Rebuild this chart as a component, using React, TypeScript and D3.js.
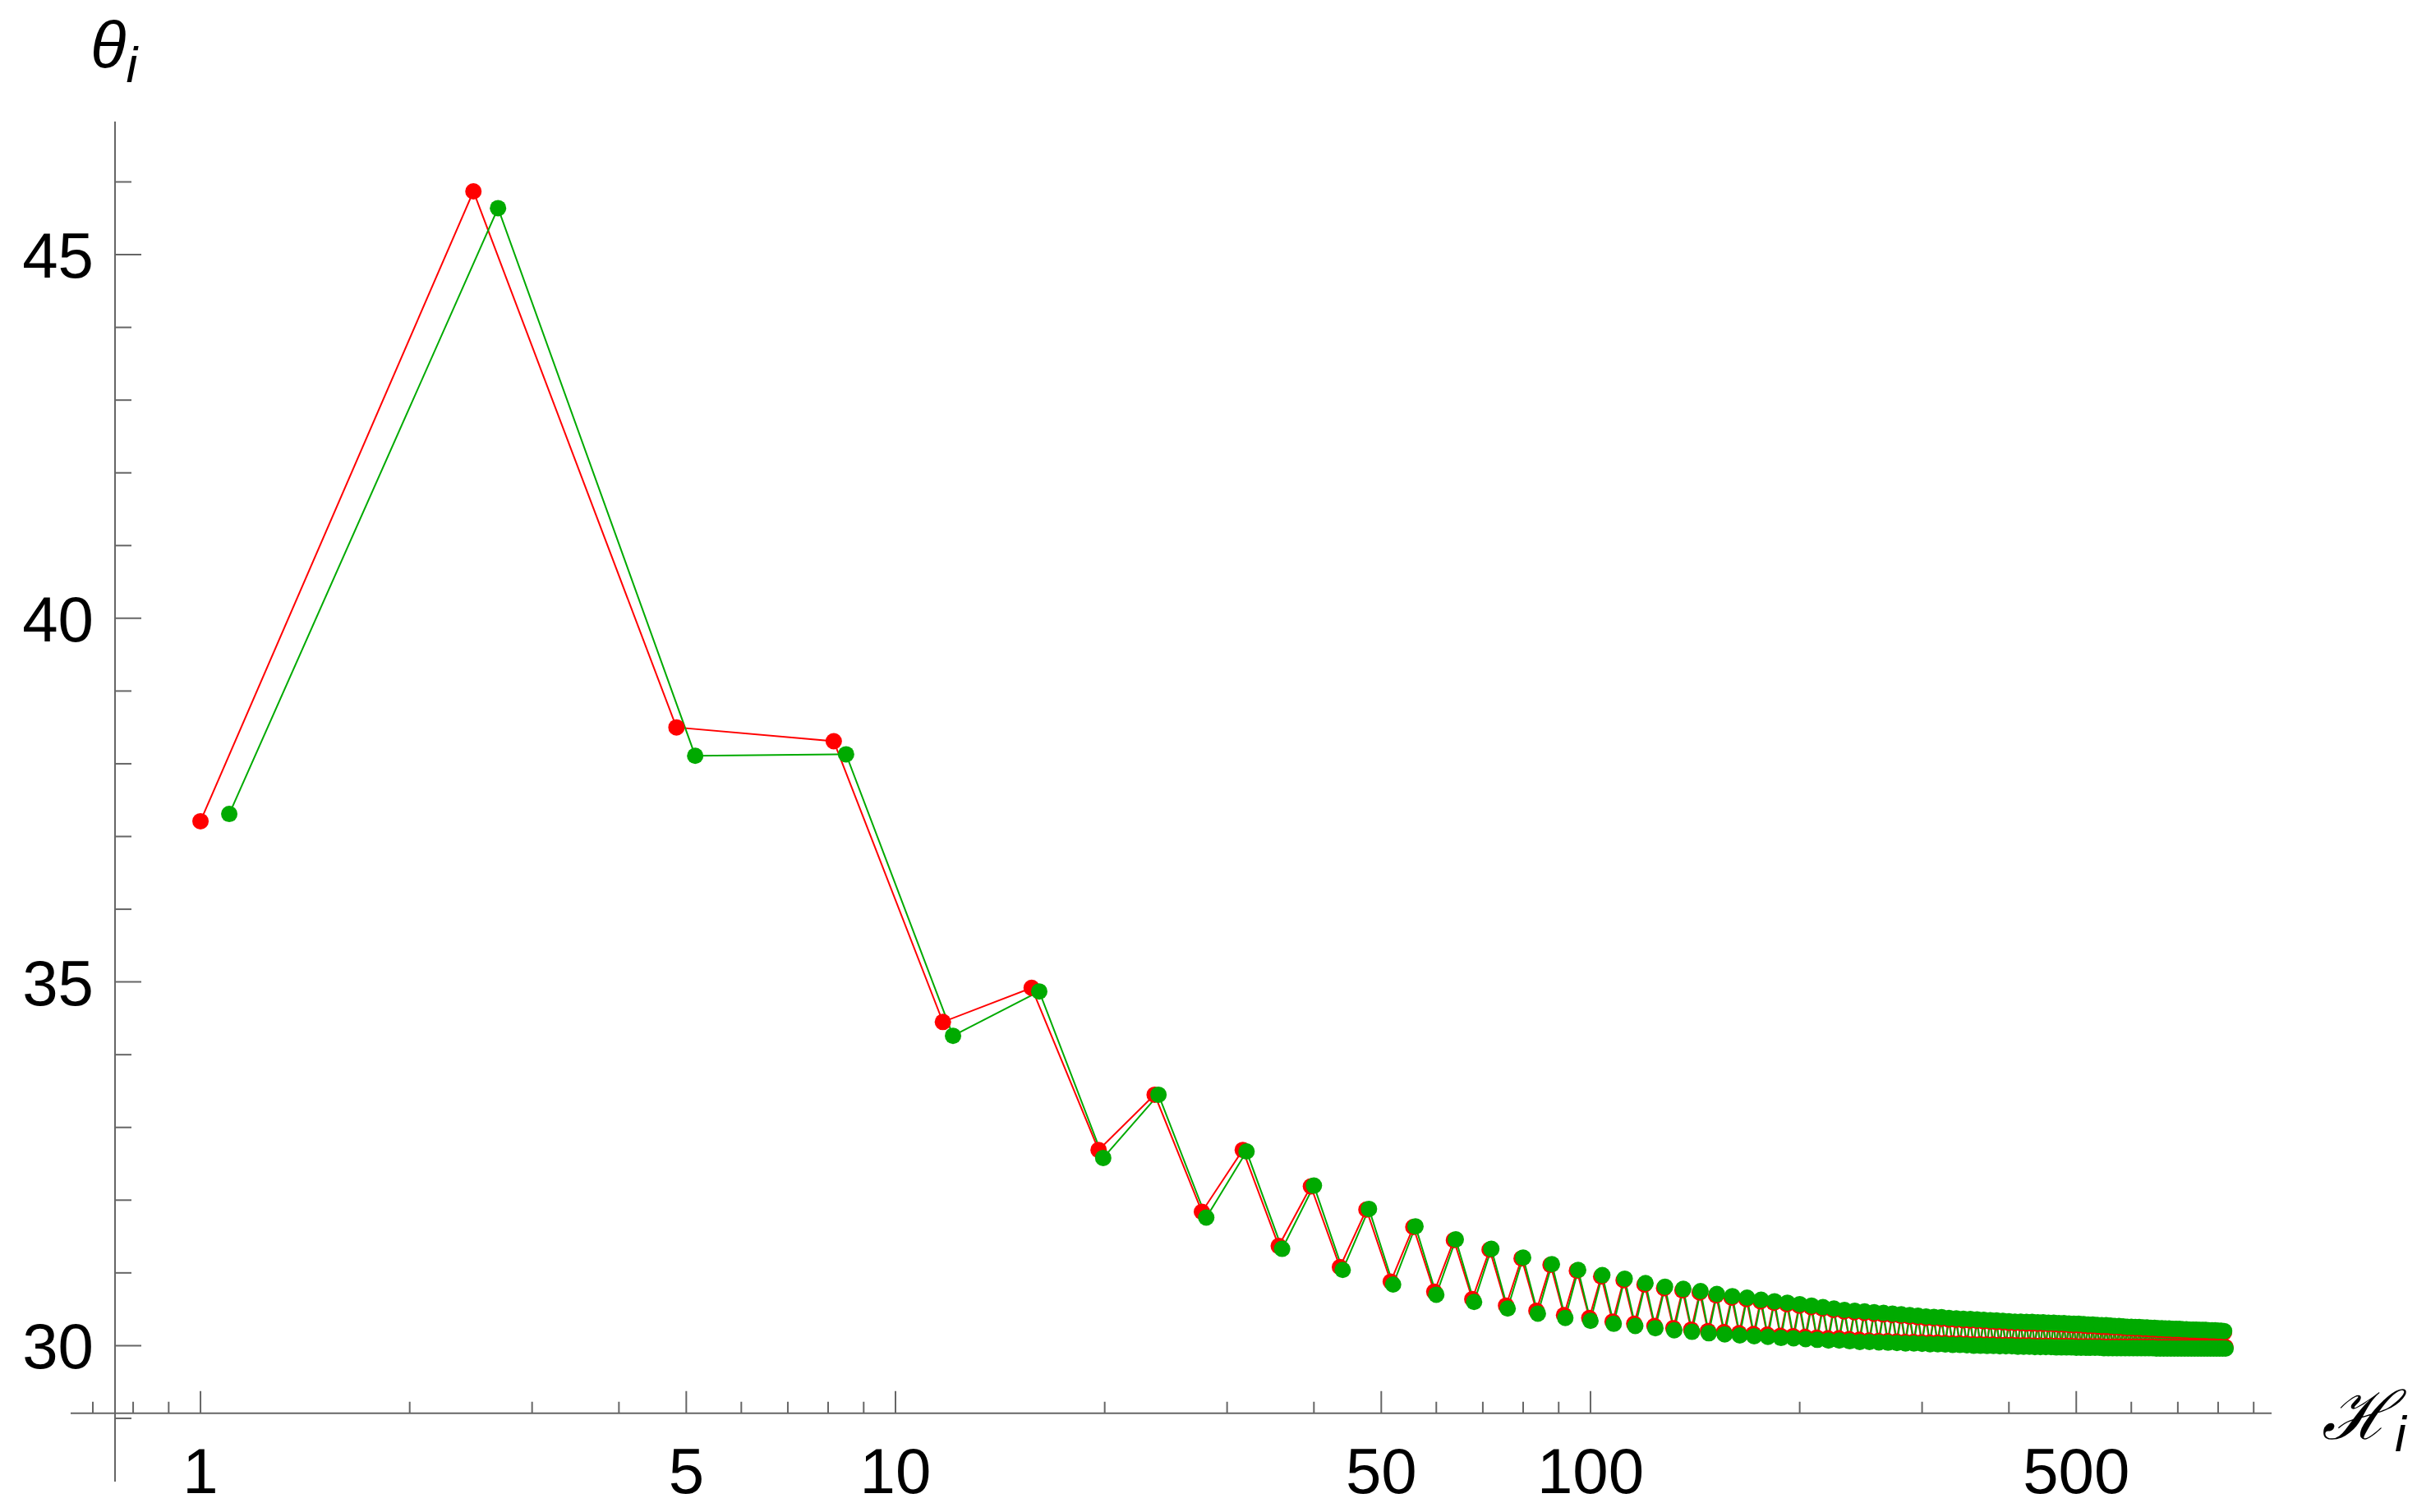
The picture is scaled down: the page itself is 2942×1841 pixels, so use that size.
import React from 'react'
import * as d3 from 'd3'

// green series (drawn on top)
const greenX = [
  1.1, 2.68, 5.15, 8.49, 12.1, 16.1, 19.9, 23.9, 28,
  32, 36, 40, 44, 48, 52, 56, 60, 64, 68, 72, 76, 80, 84, 88, 92, 96, 100,
  104, 108, 112, 116, 120, 124, 128, 132, 136, 140, 144, 148, 152, 156, 160,
  164, 168, 172, 176, 180, 184, 188, 192, 196, 200, 204, 208, 212, 216, 220,
  224, 228, 232, 236, 240, 244, 248, 252, 256, 260, 264, 268, 272, 276, 280,
  284, 288, 292, 296, 300, 304, 308, 312, 316, 320, 324, 328, 332, 336, 340,
  344, 348, 352, 356, 360, 364, 368, 372, 376, 380, 384, 388, 392, 396, 400,
  404, 408, 412, 416, 420, 424, 428, 432, 436, 440, 444, 448, 452, 456, 460,
  464, 468, 472, 476, 480, 484, 488, 492, 496, 500, 504, 508, 512, 516, 520,
  524, 528, 532, 536, 540, 544, 548, 552, 556, 560, 564, 568, 572, 576, 580,
  584, 588, 592, 596, 600, 604, 608, 612, 616, 620, 624, 628, 632, 636, 640,
  644, 648, 652, 656, 660, 664, 668, 672, 676, 680, 684, 688, 692, 696, 700,
  704, 708, 712, 716, 720, 724, 728, 732, 736, 740, 744, 748, 752, 756, 760,
  764, 768, 772, 776, 780, 784, 788, 792, 796, 800, 804, 808, 812, 816, 820,
]
const greenY = [
  37.31, 45.64, 38.11, 38.13, 34.26, 34.87, 32.58, 33.45, 31.76,
  32.67, 31.33, 32.2, 31.04, 31.88, 30.84, 31.64, 30.7, 31.46, 30.6, 31.33, 30.51, 31.21, 30.44, 31.12, 30.38, 31.04, 30.34,
  30.97, 30.3, 30.92, 30.27, 30.86, 30.24, 30.81, 30.21, 30.78, 30.19, 30.75, 30.17, 30.71, 30.155, 30.68,
  30.14, 30.66, 30.13, 30.63, 30.12, 30.61, 30.105, 30.59, 30.1, 30.57, 30.09, 30.55, 30.08, 30.53, 30.07,
  30.51, 30.07, 30.49, 30.06, 30.48, 30.05, 30.47, 30.05, 30.46, 30.045, 30.45, 30.04, 30.44, 30.035, 30.43,
  30.03, 30.42, 30.03, 30.41, 30.025, 30.4, 30.02, 30.395, 30.02, 30.39, 30.015, 30.38, 30.01, 30.375, 30.01,
  30.37, 30.005, 30.365, 30.0, 30.36, 30.0, 30.355, 29.995, 30.35, 29.995, 30.345, 29.99, 30.34, 29.99, 30.335,
  29.99, 30.33, 29.985, 30.33, 29.985, 30.325, 29.985, 30.325, 29.98, 30.32, 29.98, 30.32, 29.98, 30.315, 29.98,
  30.315, 29.975, 30.31, 29.975, 30.31, 29.975, 30.305, 29.975, 30.3, 29.97, 30.3, 29.97, 30.295, 29.97, 30.29,
  29.97, 30.29, 29.97, 30.285, 29.97, 30.28, 29.965, 30.28, 29.965, 30.275, 29.965, 30.27, 29.965, 30.27, 29.965,
  30.265, 29.965, 30.26, 29.965, 30.26, 29.965, 30.255, 29.965, 30.255, 29.965, 30.25, 29.965, 30.25, 29.965, 30.245,
  29.965, 30.245, 29.96, 30.24, 29.96, 30.24, 29.96, 30.235, 29.96, 30.235, 29.96, 30.23, 29.96, 30.23, 29.96,
  30.23, 29.96, 30.225, 29.96, 30.225, 29.96, 30.22, 29.96, 30.22, 29.96, 30.22, 29.96, 30.215, 29.96, 30.215,
  29.96, 30.215, 29.96, 30.21, 29.96, 30.21, 29.96, 30.21, 29.96, 30.205, 29.96, 30.205, 29.96, 30.2, 29.96,
]

// red series
const redX = [
  1, 2.47, 4.84, 8.15, 11.7, 15.7, 19.6, 23.6, 27.6,
  31.6, 35.6, 39.6, 43.6, 47.6, 51.6, 55.6, 59.6, 63.6, 67.6, 71.6, 75.6, 79.6, 83.6, 87.6, 91.6, 95.6, 99.6,
  103.6, 107.6, 111.6, 115.6, 119.6, 123.6, 127.6, 131.6, 135.6, 139.6, 143.6, 147.6, 151.6, 155.6, 159.6,
  163.6, 167.6, 171.6, 175.6, 179.6, 183.6, 187.6, 191.6, 195.6, 199.6, 203.6, 207.6, 211.6, 215.6, 219.6,
  223.6, 227.6, 231.6, 235.6, 239.6, 243.6, 247.6, 251.6, 255.6, 259.6, 263.6, 267.6, 271.6, 275.6, 279.6,
  283.6, 287.6, 291.6, 295.6, 299.6, 303.6, 307.6, 311.6, 315.6, 319.6, 323.6, 327.6, 331.6, 335.6, 339.6,
  343.6, 347.6, 351.6, 355.6, 359.6, 363.6, 367.6, 371.6, 375.6, 379.6, 383.6, 387.6, 391.6, 395.6, 399.6,
  403.6, 407.6, 411.6, 415.6, 419.6, 423.6, 427.6, 431.6, 435.6, 439.6, 443.6, 447.6, 451.6, 455.6, 459.6,
  463.6, 467.6, 471.6, 475.6, 479.6, 483.6, 487.6, 491.6, 495.6, 499.6, 503.6, 507.6, 511.6, 515.6, 519.6,
  523.6, 527.6, 531.6, 535.6, 539.6, 543.6, 547.6, 551.6, 555.6, 559.6, 563.6, 567.6, 571.6, 575.6, 579.6,
  583.6, 587.6, 591.6, 595.6, 599.6, 603.6, 607.6, 611.6, 615.6, 619.6, 623.6, 627.6, 631.6, 635.6, 639.6,
  643.6, 647.6, 651.6, 655.6, 659.6, 663.6, 667.6, 671.6, 675.6, 679.6, 683.6, 687.6, 691.6, 695.6, 699.6,
  703.6, 707.6, 711.6, 715.6, 719.6, 723.6, 727.6, 731.6, 735.6, 739.6, 743.6, 747.6, 751.6, 755.6, 759.6,
  763.6, 767.6, 771.6, 775.6, 779.6, 783.6, 787.6, 791.6, 795.6, 799.6, 803.6, 807.6, 811.6, 815.6, 819.6,
]
const redY = [
  37.21, 45.87, 38.5, 38.31, 34.45, 34.92, 32.69, 33.45, 31.84,
  32.69, 31.37, 32.19, 31.08, 31.87, 30.88, 31.63, 30.74, 31.45, 30.64, 31.32, 30.55, 31.2, 30.48, 31.11, 30.42, 31.03, 30.38,
  30.95, 30.33, 30.9, 30.3, 30.84, 30.27, 30.79, 30.24, 30.76, 30.22, 30.73, 30.2, 30.69, 30.185, 30.66,
  30.17, 30.64, 30.16, 30.61, 30.15, 30.59, 30.135, 30.57, 30.13, 30.55, 30.12, 30.53, 30.11, 30.51, 30.1,
  30.49, 30.1, 30.47, 30.09, 30.46, 30.08, 30.45, 30.07, 30.44, 30.065, 30.43, 30.06, 30.42, 30.055, 30.41,
  30.05, 30.4, 30.05, 30.39, 30.045, 30.38, 30.04, 30.375, 30.04, 30.37, 30.035, 30.36, 30.03, 30.355, 30.03,
  30.35, 30.025, 30.345, 30.02, 30.34, 30.02, 30.335, 30.015, 30.33, 30.015, 30.325, 30.01, 30.32, 30.01, 30.315,
  30.01, 30.31, 30.005, 30.31, 30.005, 30.305, 30.005, 30.305, 30.0, 30.3, 30.0, 30.3, 30.0, 30.295, 30.0,
  30.295, 29.995, 30.29, 29.995, 30.29, 29.995, 30.285, 29.995, 30.28, 29.99, 30.28, 29.99, 30.275, 29.99, 30.27,
  29.99, 30.27, 29.99, 30.265, 29.99, 30.26, 29.985, 30.26, 29.985, 30.255, 29.985, 30.25, 29.985, 30.25, 29.985,
  30.245, 29.985, 30.24, 29.985, 30.24, 29.985, 30.235, 29.985, 30.235, 29.985, 30.23, 29.985, 30.23, 29.985, 30.225,
  29.985, 30.225, 29.98, 30.22, 29.98, 30.22, 29.98, 30.215, 29.98, 30.215, 29.98, 30.21, 29.98, 30.21, 29.98,
  30.21, 29.98, 30.205, 29.98, 30.205, 29.98, 30.2, 29.98, 30.2, 29.98, 30.2, 29.98, 30.195, 29.98, 30.195,
  29.98, 30.195, 29.98, 30.19, 29.98, 30.19, 29.98, 30.19, 29.98, 30.185, 29.98, 30.185, 29.98, 30.18, 29.98,
]

const xMajorTicks = [1, 5, 10, 50, 100, 500]
const xMinorTicks = [0.7, 0.8, 0.9, 2, 3, 4, 6, 7, 8, 9, 20, 30, 40, 60, 70, 80, 90, 200, 300, 400, 600, 700, 800, 900]
const yMajorTicks = [30, 35, 40, 45]
const yMinorTicks = [29, 31, 32, 33, 34, 36, 37, 38, 39, 41, 42, 43, 44, 46]

const W = 2942
const H = 1841
const axisColor = '#666666'
const font = '"Liberation Sans", Arial, sans-serif'

export default function App() {
  const x = d3.scaleLog().domain([0.6504, 955]).range([86, 2765])
  const y = d3.scaleLinear().domain([28.13, 46.83]).range([1804, 148])
  const x0 = x(0.7534) // where the y axis sits
  const y0 = y(29.07) // where the x axis sits

  const series = [
    { xs: redX, ys: redY, color: '#ff0000' },
    { xs: greenX, ys: greenY, color: '#00aa00' },
  ]

  const line = (xs: number[], ys: number[]) =>
    d3.line<number>()
      .x((_, i) => x(xs[i]))
      .y((_, i) => y(ys[i]))(ys) || ''

  return (
    <div style={{ position: 'absolute', left: 0, top: 0 }}>
      <style>{'body{margin:0}'}</style>
      <svg width={W} height={H} style={{ display: 'block', background: '#fff' }}>
        {/* axes */}
        <g stroke={axisColor} strokeWidth={2}>
          <line x1={x.range()[0]} x2={x.range()[1]} y1={y0} y2={y0} />
          <line x1={x0} x2={x0} y1={y.range()[1]} y2={y.range()[0]} />
          {xMajorTicks.map(t => (
            <line key={'xM' + t} x1={x(t)} x2={x(t)} y1={y0} y2={y0 - 27} />
          ))}
          {xMinorTicks.map(t => (
            <line key={'xm' + t} x1={x(t)} x2={x(t)} y1={y0} y2={y0 - 14} />
          ))}
          {yMajorTicks.map(t => (
            <line key={'yM' + t} x1={x0} x2={x0 + 32} y1={y(t)} y2={y(t)} />
          ))}
          {yMinorTicks.map(t => (
            <line key={'ym' + t} x1={x0} x2={x0 + 20} y1={y(t)} y2={y(t)} />
          ))}
        </g>
        <g fontFamily={font} fontSize={78} fill="#000">
          {xMajorTicks.map(t => (
            <text key={'xl' + t} x={x(t)} y={y0 + 97} textAnchor="middle">{t}</text>
          ))}
          {yMajorTicks.map(t => (
            <text key={'yl' + t} x={x0 - 26} y={y(t) + 28} textAnchor="end">{t}</text>
          ))}
        </g>
        {/* axis labels */}
        <text x={110} y={82} fontFamily={font} fontStyle="italic" fontSize={80}>
          θ<tspan fontSize={62} dy={18}>i</tspan>
        </text>
        <text x={2826} y={1752} fontFamily='"DejaVu Serif", serif' fontStyle="italic" fontSize={82}>
          ℋ<tspan fontFamily={font} fontSize={62} dy={15} dx={2}>i</tspan>
        </text>
        {/* lines then markers */}
        {series.map(s => (
          <path key={'l' + s.color} d={line(s.xs, s.ys)} fill="none" stroke={s.color} strokeWidth={2} />
        ))}
        {series.map(s => (
          <g key={'p' + s.color} fill={s.color}>
            {s.ys.map((v, i) => (
              <circle key={i} cx={x(s.xs[i])} cy={y(v)} r={10} />
            ))}
          </g>
        ))}
      </svg>
    </div>
  )
}
